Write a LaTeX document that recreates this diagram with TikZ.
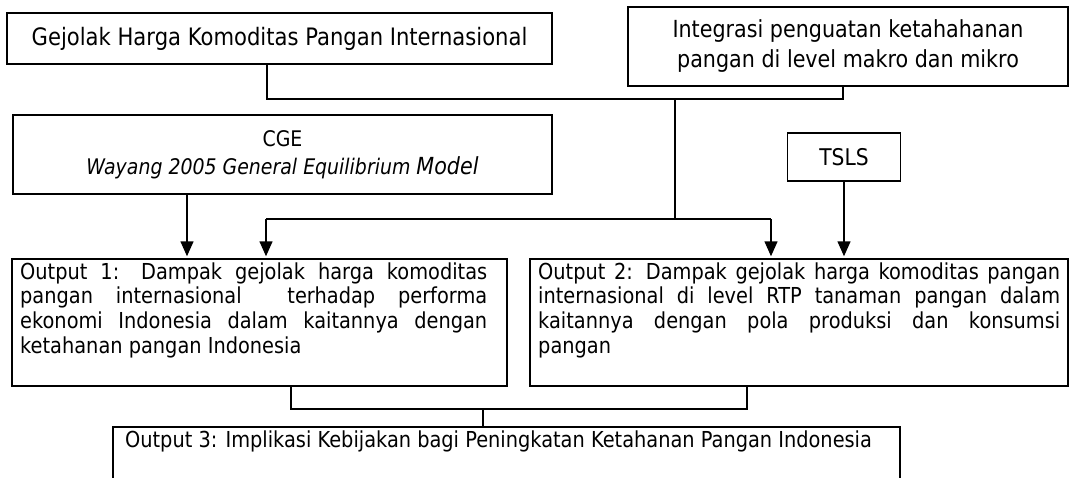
\documentclass[tikz,border=0pt]{standalone}
\usepackage{fontspec}
\setmainfont{DejaVu Sans}[FakeStretch=0.88]
\usetikzlibrary{arrows.meta}
\begin{document}
\begin{tikzpicture}[x=1pt,y=-1pt,
  box/.style={draw, line width=1.5pt, rectangle, inner sep=0pt, align=center},
  txt/.style={inner sep=0pt, anchor=base west},
  ln/.style={line width=1.5pt},
  arr/.style={line width=1.5pt, shorten >=2pt, -{Triangle[width=13pt,length=15pt]}}]
\useasboundingbox (0,0) rectangle (1070,477);
\clip (0,0) rectangle (1070,477);
% boxes
\node[box, minimum width=545pt, minimum height=51pt, font=\fontsize{24}{28}\selectfont] (gej) at (279.5,38.5) {Gejolak Harga Komoditas Pangan Internasional};
\node[box, minimum width=440pt, minimum height=79pt, font=\fontsize{23.5}{30}\selectfont] (integ) at (848,46.5) {Integrasi penguatan ketahahanan\\pangan di level makro dan mikro};
\node[box, minimum width=539pt, minimum height=79pt, font=\fontsize{21.5}{28}\selectfont] (cge) at (282.5,154.5) {CGE\\\textit{Wayang 2005 General Equilibrium} {\fontsize{23.5}{28}\selectfont\textit{Model}}};
\node[box, minimum width=113pt, minimum height=48pt, font=\fontsize{23}{27}\selectfont] (tsls) at (844,157) {TSLS};
\node[box, minimum width=495pt, minimum height=127pt] (o1) at (259.5,322.5) {};
\node[box, minimum width=538pt, minimum height=127pt] (o2) at (799,322.5) {};
\node[box, minimum width=787pt, minimum height=80pt, anchor=north] (o3) at (506.5,426) {};
% texts of output boxes
\node[txt, font=\fontsize{22}{24.7}\selectfont] (o1t) at (20,279) {\parbox[t]{467pt}{Output 1: Dampak gejolak harga komoditas\linebreak pangan internasional \ terhadap performa\linebreak ekonomi Indonesia dalam kaitannya dengan\linebreak ketahanan pangan Indonesia}};
\node[txt, font=\fontsize{22}{24.7}\selectfont] (o2t) at (538,279) {\parbox[t]{522pt}{Output 2: Dampak gejolak harga komoditas pangan\linebreak internasional di level RTP tanaman pangan dalam\linebreak kaitannya dengan pola produksi dan konsumsi\linebreak pangan}};
\node[inner sep=0pt, font=\fontsize{22}{24}\selectfont] (o3t) at (498.5,441) {Output 3: Implikasi Kebijakan bagi Peningkatan Ketahanan Pangan Indonesia};
% junction coordinates
\coordinate (j1) at (267,99);
\coordinate (j2) at (843,99);
\coordinate (j3) at (675,99);
\coordinate (j4) at (675,219);
\coordinate (a1) at (266,219);
\coordinate (a2) at (771,219);
\coordinate (b1) at (291,409);
\coordinate (b2) at (747,409);
\coordinate (b3) at (483,409);
% connectors
\draw[ln] (gej.south -| j1) -- (j1) -- (j2) -- (integ.south -| j2);
\draw[ln] (j3) -- (j4);
\draw[ln] (a1) -- (a2);
\draw[arr] (a1) -- (o1.north -| a1);
\draw[arr] (a2) -- (o2.north -| a2);
\draw[arr] (cge.south -| 187,0) -- (o1.north -| 187,0);
\draw[arr] (tsls.south) -- (o2.north -| tsls.south);
\draw[ln] (o1.south -| b1) -- (b1) -- (b2) -- (o2.south -| b2);
\draw[ln] (b3) -- (o3.north -| b3);
\end{tikzpicture}
\end{document}
